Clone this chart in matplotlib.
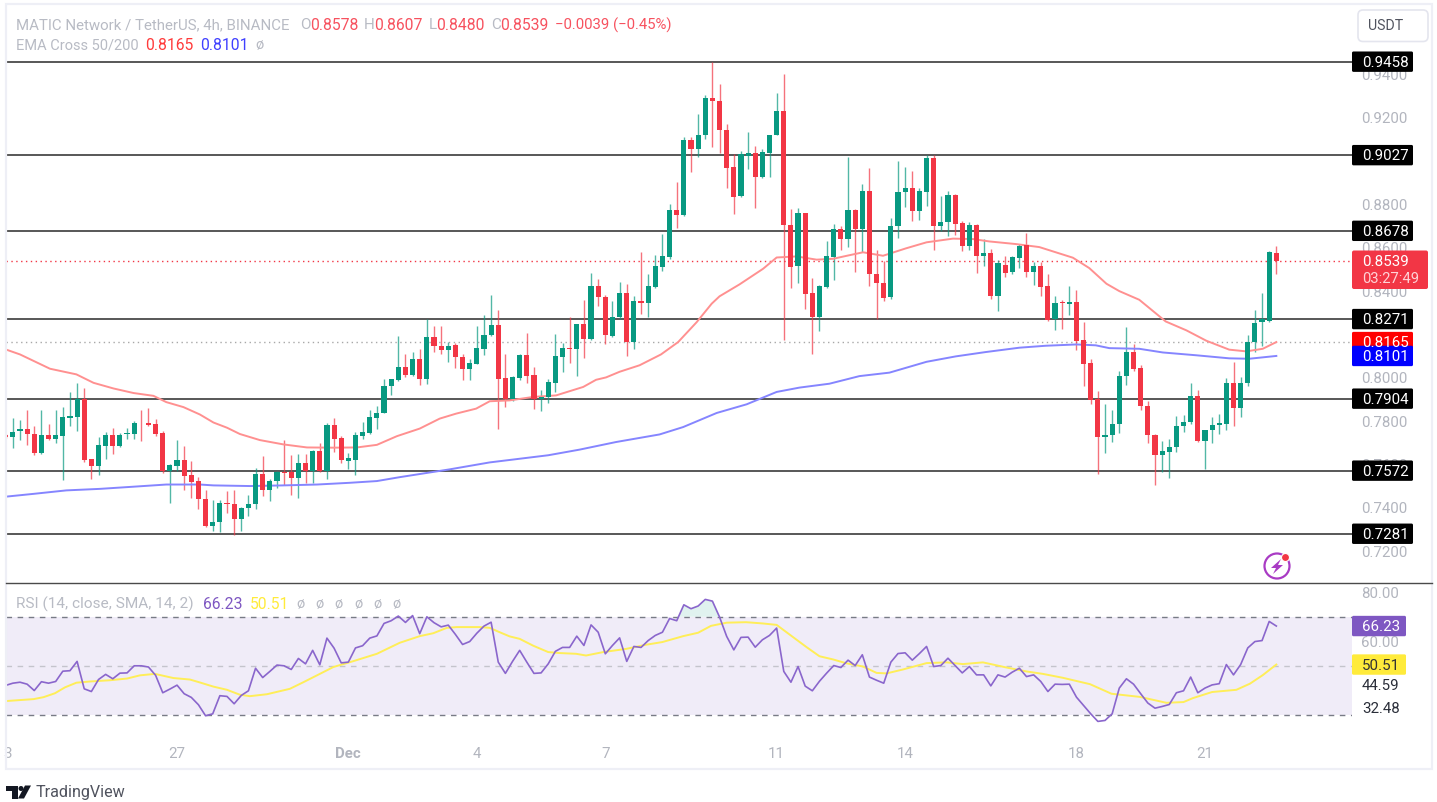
import matplotlib
matplotlib.use('Agg')
import matplotlib.pyplot as plt
from matplotlib.patches import Circle, FancyBboxPatch, Polygon, Rectangle
from matplotlib.transforms import ScaledTranslation

plt.rcParams['font.family'] = ['Roboto', 'DejaVu Sans']

# Candles, one row of values per list, oldest first
opens = [
    .7736, .7725, .7753, .7765, .7741, .7654, .7737, .7719, .7734, .7817,
    .7819, .7903, .7624, .7593, .7687, .7737, .7687, .7739, .7739, .7793,
    .7793, .7788, .7747, .7572, .7593, .7621, .7550, .7522, .7442, .7319,
    .7335, .7424, .7419, .7347, .7399, .7418, .7555, .7481, .7524, .7564,
    .7564, .7538, .7607, .7572, .7661, .7572, .7784, .7722, .7618, .7622,
    .7734, .7747, .7817, .7837, .7962, .7991, .8048, .8013, .8089, .7994,
    .8188, .8149, .8129, .8151, .8094, .8041, .8065, .8134, .8196, .8245,
    .7998, .7901, .7998, .8105, .8011, .7904, .7912, .7976, .8096, .8137,
    .8134, .8248, .8181, .8425, .8374, .8194, .8279, .8390, .8167, .8353,
    .8345, .8419, .8511, .8557, .8775, .8749, .9097, .9057, .9118, .9292,
    .9278, .9143, .8971, .8837, .9024, .9035, .8926, .9038, .9121, .9232,
    .8706, .8514, .8761, .8390, .8279, .8417, .8557, .8688, .8642, .8775,
    .8688, .8863, .8480, .8439, .8371, .8702, .8857, .8877, .8768, .8857,
    .9012, .8702, .8717, .8841, .8715, .8609, .8706, .8562, .8574, .8376,
    .8522, .8486, .8552, .8611, .8486, .8514, .8422, .8270, .8348, .8340,
    .8351, .8174, .8067, .7901, .7726, .7735, .7787, .8008, .8117, .8044,
    .7872, .7736, .7646, .7659, .7679, .7776, .7795, .7918, .7710, .7758,
    .7782, .7789, .7978, .7859, .7976, .8164, .8256, .8263, .8578,
]
highs = [
    .7740, .7813, .7807, .7853, .7779, .7853, .7788, .7850, .7867, .7933,
    .7974, .7954, .7627, .7727, .7751, .7770, .7745, .7770, .7799, .7853,
    .7862, .7811, .7753, .7602, .7714, .7685, .7616, .7545, .7485, .7438,
    .7438, .7479, .7485, .7404, .7458, .7584, .7639, .7535, .7572, .7713,
    .7645, .7648, .7648, .7668, .7699, .7791, .7816, .7734, .7653, .7750,
    .7797, .7853, .7871, .7993, .7996, .8194, .8109, .8119, .8131, .8271,
    .8240, .8240, .8163, .8161, .8108, .8088, .8240, .8291, .8380, .8311,
    .8111, .8007, .8108, .8208, .8048, .7942, .7996, .8204, .8161, .8279,
    .8250, .8357, .8482, .8457, .8383, .8354, .8440, .8431, .8379, .8580,
    .8477, .8565, .8663, .8800, .8901, .9110, .9110, .9218, .9303, .9458,
    .9353, .9172, .9030, .9044, .9135, .9069, .9057, .9120, .9315, .9399,
    .8780, .8785, .8761, .8459, .8429, .8631, .8711, .8700, .9017, .8780,
    .8895, .8969, .8588, .8539, .8738, .8998, .8971, .8952, .8874, .9026,
    .9026, .8837, .8863, .8849, .8725, .8720, .8711, .8639, .8594, .8542,
    .8560, .8560, .8615, .8669, .8536, .8532, .8477, .8376, .8357, .8422,
    .8403, .8259, .8087, .7938, .7881, .7853, .8031, .8236, .8154, .8058,
    .7892, .7739, .7709, .7719, .7825, .7827, .7978, .7942, .7761, .7821,
    .7833, .8001, .8071, .8006, .8197, .8314, .8393, .8583, .8607,
]
lows = [
    .7722, .7678, .7714, .7691, .7645, .7648, .7714, .7701, .7528, .7776,
    .7756, .7611, .7533, .7552, .7625, .7650, .7681, .7716, .7716, .7710,
    .7776, .7731, .7562, .7422, .7572, .7485, .7445, .7393, .7312, .7293,
    .7287, .7376, .7273, .7292, .7362, .7395, .7453, .7430, .7492, .7508,
    .7462, .7445, .7513, .7513, .7565, .7533, .7658, .7607, .7578, .7552,
    .7716, .7742, .7762, .7836, .7923, .7986, .8006, .8010, .7965, .7971,
    .8119, .8111, .8073, .8047, .7988, .7988, .8062, .8105, .8193, .7766,
    .7864, .7893, .7988, .7976, .7855, .7845, .7884, .7933, .8027, .8068,
    .8008, .8093, .8173, .8330, .8157, .8188, .8273, .8102, .8134, .8296,
    .8282, .8416, .8492, .8549, .8691, .8748, .8949, .9018, .9103, .9064,
    .9037, .8875, .8757, .8834, .8961, .8781, .8921, .8924, .9120, .8176,
    .8414, .8437, .8316, .8110, .8217, .8414, .8453, .8588, .8603, .8488,
    .8580, .8423, .8271, .8353, .8363, .8646, .8788, .8725, .8729, .8791,
    .8589, .8677, .8654, .8657, .8585, .8589, .8483, .8516, .8362, .8307,
    .8463, .8477, .8505, .8463, .8426, .8377, .8262, .8222, .8225, .8291,
    .8130, .7961, .7881, .7558, .7655, .7706, .7744, .7967, .8031, .7850,
    .7701, .7506, .7566, .7540, .7659, .7749, .7789, .7706, .7580, .7701,
    .7739, .7758, .7779, .7821, .7961, .8119, .8148, .8256, .8480,
]
closes = [
    .7725, .7751, .7765, .7739, .7654, .7737, .7719, .7737, .7820, .7822,
    .7903, .7619, .7593, .7690, .7737, .7687, .7737, .7744, .7794, .7790,
    .7784, .7742, .7572, .7596, .7621, .7548, .7519, .7439, .7319, .7336,
    .7424, .7419, .7347, .7401, .7419, .7555, .7481, .7525, .7564, .7561,
    .7538, .7607, .7572, .7664, .7572, .7784, .7716, .7622, .7630, .7737,
    .7751, .7820, .7839, .7963, .7993, .8048, .8013, .8089, .7994, .8188,
    .8149, .8129, .8149, .8094, .8041, .8068, .8137, .8199, .8245, .7994,
    .7901, .8002, .8105, .8008, .7904, .7913, .7979, .8101, .8137, .8134,
    .8248, .8181, .8425, .8373, .8196, .8282, .8390, .8167, .8353, .8345,
    .8425, .8514, .8560, .8775, .8749, .9097, .9057, .9120, .9292, .9275,
    .9141, .8967, .8834, .9030, .9035, .8926, .9040, .9120, .9232, .8703,
    .8511, .8761, .8385, .8279, .8422, .8560, .8688, .8642, .8775, .8685,
    .8863, .8477, .8437, .8368, .8700, .8858, .8877, .8768, .8860, .9012,
    .8702, .8718, .8841, .8711, .8609, .8705, .8562, .8574, .8376, .8528,
    .8482, .8557, .8609, .8486, .8514, .8417, .8268, .8346, .8345, .8351,
    .8171, .8065, .7899, .7726, .7736, .7787, .8010, .8117, .8042, .7870,
    .7735, .7646, .7663, .7681, .7779, .7798, .7918, .7709, .7759, .7784,
    .7793, .7978, .7861, .7978, .8164, .8254, .8271, .8580, .8539,
]

# EMA 50 and EMA 200, read at the bends of each curve (candle index, price)
ema50_idx = [
    0, 2, 6.2, 9.9, 12.3, 15.1, 17.9, 20.7, 22.5, 24.9, 27.2, 29.1, 31, 32.8,
    35.6, 38.9, 42.2, 45.9, 49.2, 52, 54.8, 58, 60.8, 63.1, 65.9, 67.8, 70.6,
    73.9, 77.1, 80.9, 82.7, 84.1, 86, 88.8, 91.8, 94.2, 96.8, 98.9, 100, 102.8,
    106.1, 108, 110.8, 113.6, 115.9, 117.7, 120.1, 122.9, 126.1, 129, 132.7,
    135.5, 137.8, 141.5, 144.8, 149.5, 151.8, 154.2, 156, 158.8, 162.5, 165.4,
    168.2, 171.4, 173.8, 176.1, 178,
]
ema50 = [
    .8131, .8108, .8042, .8016, .7977, .7951, .7930, .7917, .7888, .7865, .7831,
    .7794, .7770, .7741, .7713, .7693, .7679, .7678, .7679, .7691, .7731, .7766,
    .7812, .7835, .7858, .7892, .7896, .7912, .7919, .7958, .7991, .8002, .8028,
    .8058, .8108, .8165, .8257, .8342, .8376, .8431, .8503, .8555, .8560, .8545,
    .8549, .8562, .8579, .8563, .8597, .8625, .8642, .8640, .8629, .8617, .8603,
    .8554, .8506, .8434, .8400, .8360, .8260, .8219, .8171, .8130, .8122, .8134,
    .8165,
]
ema200_idx = [
    0, 3.9, 8.5, 13.2, 17.9, 22.5, 27.2, 29.1, 34.2, 38.9, 43.6, 48.2, 52, 55.2,
    62.2, 67.8, 76, 80.4, 85.5, 91.6, 94.9, 99.6, 103.8, 108, 111.2, 115.4,
    119.6, 123.8, 129, 133.1, 137.3, 142, 145.7, 150, 152.7, 154.6, 158.8,
    162.1, 166.8, 171.4, 174.2, 178,
]
ema200 = [
    .7452, .7465, .7481, .7488, .7498, .7508, .7508, .7504, .7501, .7504, .7508,
    .7516, .7524, .7542, .7578, .7610, .7643, .7669, .7704, .7739, .7773, .7838,
    .7878, .7935, .7955, .7973, .8008, .8024, .8074, .8099, .8119, .8139, .8148,
    .8154, .8150, .8137, .8134, .8117, .8104, .8090, .8088, .8101,
]

# RSI, one value per candle
rsi = [
    42.0, 42.9, 43.3, 42.5, 39.9, 43.5, 42.9, 43.6, 47.8, 48.0,
    51.8, 40.6, 39.5, 44.4, 46.5, 44.7, 47.0, 47.1, 50.0, 50.0,
    49.5, 46.1, 39.0, 40.5, 42.1, 38.6, 37.1, 34.1, 29.6, 30.4,
    37.8, 37.5, 34.5, 37.9, 39.8, 49.0, 45.2, 47.7, 50.3, 50.0,
    48.5, 53.0, 50.8, 56.3, 50.4, 61.3, 57.2, 51.2, 51.5, 57.3,
    58.2, 61.3, 62.2, 67.3, 68.4, 70.3, 67.7, 70.5, 63.1, 70.0,
    67.6, 65.9, 66.6, 62.8, 58.7, 59.9, 63.3, 66.2, 67.8, 51.5,
    46.9, 51.8, 56.3, 51.5, 46.9, 47.1, 50.8, 55.9, 57.5, 57.5,
    62.1, 58.3, 66.7, 63.7, 54.9, 58.3, 61.4, 51.8, 57.9, 57.5,
    60.3, 62.4, 63.7, 69.3, 68.4, 74.9, 73.3, 74.4, 77.1, 76.4,
    69.9, 62.0, 56.5, 61.6, 61.7, 57.6, 60.6, 62.4, 65.4, 47.7,
    43.3, 49.7, 41.7, 39.8, 43.7, 47.0, 50.1, 49.3, 52.3, 50.1,
    54.5, 45.4, 44.1, 42.9, 51.5, 55.0, 55.3, 52.3, 55.0, 57.9,
    49.7, 50.1, 53.1, 50.1, 47.1, 49.7, 46.3, 46.3, 41.8, 46.3,
    45.4, 47.4, 49.0, 45.6, 46.3, 43.6, 39.5, 42.5, 42.4, 42.5,
    37.2, 33.8, 30.4, 27.3, 27.7, 30.4, 40.9, 44.7, 42.5, 38.6,
    34.8, 32.7, 33.4, 34.2, 39.0, 39.8, 45.4, 39.0, 40.9, 42.2,
    42.7, 50.5, 46.3, 50.5, 57.3, 59.9, 60.3, 68.1, 66.23,
]
rsi_ma_idx = [
    0, 3.9, 5.3, 6.9, 8.3, 9.9, 11.8, 14.6, 17, 18.8, 20.9, 23.5, 25.8, 27.2,
    29.1, 31, 32.8, 34.2, 36.6, 39.8, 41.7, 43.6, 45.9, 48.7, 52, 55.2, 58, 59.9,
    61.8, 63.2, 66.4, 67.8, 69.2, 70.6, 72, 73.9, 76, 77.6, 79.9, 81.3, 83.7,
    86.9, 89.7, 92, 94.9, 97, 98.8, 101, 103.7, 106, 108, 110.3, 112.2, 114,
    115.9, 117.8, 120.1, 122, 123.4, 125.7, 129, 131.8, 134.1, 136.9, 140.2,
    143, 145.3, 148.1, 151.9, 154.9, 158.9, 162.6, 165, 166.3, 169, 172.4,
    174.3, 176.1, 178,
]
rsi_ma = [
    35.6, 36.4, 37.2, 38.8, 41.2, 43.1, 43.6, 44.1, 44.8, 46.1, 46.7, 45.0, 44.4,
    43.2, 41.5, 40.2, 38.2, 37.6, 38.4, 40.6, 43.3, 46.1, 49.5, 51.9, 54.9, 59.4,
    62.1, 63.3, 65.5, 65.8, 65.8, 65.5, 63.7, 62.0, 61.0, 58.2, 55.6, 55.2, 54.9,
    54.2, 55.6, 56.9, 58.6, 59.7, 62.1, 63.5, 66.3, 67.6, 67.8, 67.3, 66.7, 61.7,
    57.6, 53.9, 52.6, 51.0, 49.7, 47.1, 46.9, 48.5, 51.1, 51.4, 50.7, 51.4, 49.3,
    47.7, 46.7, 45.1, 42.5, 38.6, 37.3, 34.9, 35.2, 36.8, 39.3, 40.2, 42.7, 46.2,
    50.51,
]

levels = [0.9458, 0.9027, 0.8678, 0.8271, 0.7904, 0.7572, 0.7281]
# 0.90 y 0.82 quedan tapados por las etiquetas en el original
price_ticks = [.72, .74, .76, .78, .80, .84, .86, .88, .92, .94]
rsi_ticks = [60, 80]
time_pos = [0.3, 24, 48, 66, 84, 108, 126, 150, 168]
time_labels = ['3', '27', 'Dec', '4', '7', '11', '14', '18', '21']

GREEN = '#089981'
RED = '#f23645'
GREY = '#b2b5be'
W, H = 1437, 803
DY = 1.5  # todo baja 1.5 px respecto a lo medido


def px_box(left, top, right, bottom):
    return [left / W, 1 - (bottom + DY) / H, (right - left) / W, (bottom - top) / H]


fig = plt.figure(figsize=(W / 100, H / 100), dpi=100, facecolor='white')

# precio
ax = fig.add_axes(px_box(6, 5, 1352, 583))
ax.set_xlim(0.04, 188.6)
ax.set_ylim(0.9458 - 522 * .000461, 0.9458 + 56.2 * .000461)
for i in range(len(closes)):
    col = GREEN if closes[i] >= opens[i] else RED
    ax.vlines(i, lows[i], highs[i], color=col, lw=1.0, alpha=0.7, zorder=2)
    ax.bar(i, max(abs(closes[i] - opens[i]), .0004), bottom=min(opens[i], closes[i]),
           width=0.72, color=col, zorder=3)
ax.plot(ema50_idx, ema50, color='#ff9090', lw=1.4, zorder=2.6)
ax.plot(ema200_idx, ema200, color='#8585ff', lw=1.4, zorder=2.6)
for lv in levels:
    ax.axhline(lv, color='#2a2a2a', lw=1.1, zorder=1.5)
ax.axhline(closes[-1], color=RED, lw=1, ls=(0, (1, 2.5)), zorder=1)
ax.axhline(ema50[-1], color='#a8a8a8', lw=1, ls=(0, (1, 2.5)), zorder=1)
ax.yaxis.tick_right()
ax.set_yticks(price_ticks, [f'{t:.4f}' for t in price_ticks])
ax.tick_params(axis='y', length=0, pad=6.6, labelcolor=GREY, labelsize=10.8)
ax.set_xticks([])
for s in ax.spines.values():
    s.set_visible(False)

# rsi
ax2 = fig.add_axes(px_box(6, 584, 1352, 736))
ax2.set_xlim(0.04, 188.6)
ax2.set_ylim(70 - 119.7 / 2.45, 70 + 32.3 / 2.45)
ax2.axhspan(30, 70, color='#7e57c2', alpha=0.11, lw=0, zorder=1)
ax2.fill_between(range(len(rsi)), 70, rsi, where=[r > 70 for r in rsi], color=GREEN, alpha=0.12,
                 lw=0, interpolate=True, zorder=1)
ax2.axhline(70, color='#787b86', lw=1, ls=(0, (4, 4)), zorder=1.5)
ax2.axhline(50, color='#c4c4cc', lw=1, ls=(0, (4, 4)), zorder=1.5)
ax2.axhline(30, color='#787b86', lw=1, ls=(0, (4, 4)), zorder=1.5)
ax2.plot(rsi_ma_idx, rsi_ma, color='#ffee58', lw=1.4, zorder=2)
ax2.plot(range(len(rsi)), rsi, color='#8a66cc', lw=1.2, zorder=3)
ax2.yaxis.tick_right()
ax2.set_yticks(rsi_ticks, [f'{t:.2f}' for t in rsi_ticks])
ax2.tick_params(axis='y', length=0, pad=6.6, labelcolor=GREY, labelsize=10.8)
ax2.set_xticks(time_pos, time_labels)
ax2.tick_params(axis='x', length=0, pad=7.2, labelcolor=GREY, labelsize=10.8)
ax2.get_xticklabels()[2].set_fontweight('bold')
for s in ax2.spines.values():
    s.set_visible(False)

# las etiquetas del eje suben 1 px
up = ScaledTranslation(0, 1 / 100, fig.dpi_scale_trans)
for lbl in ax.get_yticklabels() + ax2.get_yticklabels():
    lbl.set_transform(lbl.get_transform() + up)

# capa para marco, leyendas y logo, en pixeles
top = fig.add_axes([0, 0, 1, 1], facecolor='none', zorder=10)
top.set_xlim(0, W)
top.set_ylim(H - DY, -DY)
top.axis('off')
top.add_patch(Rectangle((5.5, 3), 1426.5, 765, fc='none', ec='#eeeff6', lw=1.6))
top.plot([6, 1432], [582, 582], color='#4a4a4a', lw=1)

top.add_patch(FancyBboxPatch((1358, 9.5), 70, 31.5, boxstyle='round,pad=0,rounding_size=5',
                             fc='white', ec='#e4e5ee', lw=1.2))
top.text(1386, 25, 'USDT', color='#50535e', fontsize=10.2, ha='center', va='center')


def tag(axis, val, txt, fc, tc, right=1413):
    # caja de etiqueta a la altura del valor en su eje
    ypx = H - axis.transData.transform((0, val))[1] - DY
    top.add_patch(FancyBboxPatch((1352, ypx - 10.2), right - 1352, 20.4,
                                 boxstyle='round,pad=0,rounding_size=1.5', fc=fc, ec='none', zorder=5))
    top.text(1362, ypx + 0.3, txt, color=tc, fontsize=10.9, va='center', zorder=6)


for lv in levels:
    tag(ax, lv, f'{lv:.4f}', 'black', 'white')
tag(ax, ema50[-1], '0.8165', '#ff0000', 'white')
tag(ax, ema200[-1], '0.8101', '#0000ff', 'white')
tag(ax2, rsi[-1], '66.23', '#7e57c2', 'white', right=1406)
tag(ax2, rsi_ma[-1], '50.51', '#ffeb3b', '#333333', right=1406)

# caja del precio actual
top.add_patch(FancyBboxPatch((1352, 250), 76, 38.5, boxstyle='round,pad=0,rounding_size=2',
                             fc=RED, ec='none', zorder=5))
top.text(1362, 260.5, '0.8539', color='white', fontsize=10.9, va='center', zorder=6)
top.text(1362, 278, '03:27:49', color='#ffd2d6', fontsize=10.6, va='center', zorder=6)

top.text(1362, 684.5, '44.59', color='#2a2e39', fontsize=10.8, va='center')
top.text(1362, 708, '32.48', color='#2a2e39', fontsize=10.8, va='center')


def legend(y, parts):
    for x, txt, col, size in parts:
        top.text(x, y, txt, color=col, fontsize=size, va='center')


LG = '#b8bbc4'
PR = '#f7525f'
legend(23.5, [(16, 'MATIC Network / TetherUS, 4h, BINANCE', LG, 10.85),
              (300, 'O', LG, 11), (310, '0.8578', PR, 11.3),
              (364, 'H', LG, 11), (374, '0.8607', PR, 11.3),
              (429, 'L', LG, 11), (436, '0.8480', PR, 11.3),
              (491, 'C', LG, 11), (500, '0.8539', PR, 11.3),
              (555, '\u22120.0039 (\u22120.45%)', PR, 10.75)])
legend(44, [(16, 'EMA Cross 50/200', LG, 10.5), (145, '0.8165', '#ff3b3b', 11.3),
            (200, '0.8101', '#4040ff', 11.3), (255, '\u00f8', LG, 10.5)])
legend(603, [(16, 'RSI (14, close, SMA, 14, 2)', LG, 11.1), (203, '66.23', '#7e57c2', 11.3),
             (250, '50.51', '#ffeb3b', 11.3)]
       + [(x, '\u00f8', LG, 10.5) for x in (296, 315, 334, 354, 373, 392)])

# icono
top.add_patch(Circle((1277, 565.5), 12.5, fc='none', ec='#a93bc4', lw=1.6))
top.add_patch(Polygon([(1281, 558.5), (1271, 567.5), (1276, 567.5), (1273, 573.5), (1283, 564.5), (1278, 564.5)],
                      closed=True, fc='#a93bc4', ec='none'))
top.add_patch(Circle((1285.5, 557), 4, fc=RED, ec='white', lw=0.8))

# logo TradingView
top.add_patch(Polygon([(6, 785), (18, 785), (18, 798), (12, 798), (12, 790), (6, 790)], closed=True,
                      fc='#131722', ec='none'))
top.add_patch(Circle((21, 788), 2.5, fc='#131722', ec='none'))
top.add_patch(Polygon([(25, 785), (31, 785), (24, 798), (18, 798)], closed=True, fc='#131722', ec='none'))
top.text(36, 791.5, 'TradingView', color='#50535e', fontsize=11.6, va='center')

fig.savefig('out.png', dpi=100)
